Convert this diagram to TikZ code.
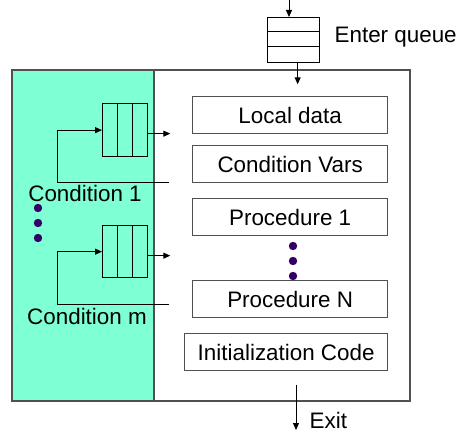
\documentclass[tikz,border=0pt]{standalone}
\usepackage{fontspec}
\setmainfont{Liberation Sans}
\usetikzlibrary{arrows.meta}
\definecolor{condgreen}{RGB}{127,255,212}
\definecolor{dotcol}{RGB}{51,0,102}
\definecolor{edgegray}{RGB}{80,80,80}

\begin{document}
\begin{tikzpicture}[x=1pt,y=-1pt,line width=1.3pt,
  every node/.style={font=\fontsize{22.4pt}{26pt}\selectfont},
  part/.style={draw=edgegray,inner sep=0pt,anchor=north west,minimum height=37pt},
  queue/.style={draw=black,fill=condgreen,inner sep=0pt,anchor=north west},
  arr/.style={-{Triangle[length=7pt,width=6pt]},line width=1pt},
  dot/.style={fill=dotcol,draw=none}]
\useasboundingbox (0,0) rectangle (465,436);
% monitor
\node[draw=edgegray,inner sep=0pt,anchor=north west,minimum width=397pt,minimum height=330pt] (mon) at (12,70) {};
\fill[condgreen] (mon.north west) rectangle (154,400);
\draw[edgegray] (mon.north west) rectangle (mon.south east);
\draw[edgegray] (154,70) -- (154,400);

\node[part,minimum width=195pt] (local) at (192,96) {Local data};
\node[part,minimum width=195pt] (cvars) at (192,145) {Condition Vars};
\node[part,minimum width=195pt] (proc1) at (192,198) {Procedure 1};
\node[part,minimum width=195pt] (procn) at (192,280) {Procedure N};
\node[part,minimum width=203pt] (init) at (184,333) {Initialization Code};

% enter queue
\node[draw=black,inner sep=0pt,anchor=north west,minimum width=52pt,minimum height=45pt] (eq) at (267,17) {};
\draw[line width=1pt] (267,32) -- (319,32) (267,47) -- (319,47);
\node[anchor=west,inner sep=0pt] (eqlab) at (334,37) {Enter queue};
\coordinate (in) at (289,0);
\draw[arr] (in) -- (in |- eq.north);
\draw[arr] ([xshift=4pt]eq.south) -- ++(0,21);

% condition queues
\node[queue,minimum width=45pt,minimum height=53pt] (q1) at (102,103) {};
\node[queue,minimum width=45pt,minimum height=52pt] (qm) at (102,225) {};
\foreach \q in {q1,qm}
  \draw[line width=1pt] ([xshift=15pt]\q.north west) -- ([xshift=15pt]\q.south west)
        ([xshift=30pt]\q.north west) -- ([xshift=30pt]\q.south west);
\draw[arr] ([yshift=-3.5pt]q1.east) -- ++(22,0);
\draw[arr] (169,182) -| ([xshift=-45pt]q1.west) -- (q1.west);
\draw[arr] ([yshift=-4pt]qm.east) -- ++(22,0);
\draw[arr] (169,304) -| ([xshift=-45pt]qm.west) -- (qm.west);
\node[inner sep=0pt] (c1) at (85,193) {Condition 1};
\node[inner sep=0pt] (cm) at (87,316) {Condition m};

% dots
\foreach \y in {208,223,238} \fill[dot] (38,\y) circle (4.2pt);
\foreach \y in {246,261,276} \fill[dot] (293,\y) circle (4.2pt);

% exit
\coordinate (out) at (296,385);
\draw[arr] (out) -- ++(0,45);
\node[anchor=west,inner sep=0pt] (exit) at (309,420) {Exit};
\end{tikzpicture}
\end{document}
